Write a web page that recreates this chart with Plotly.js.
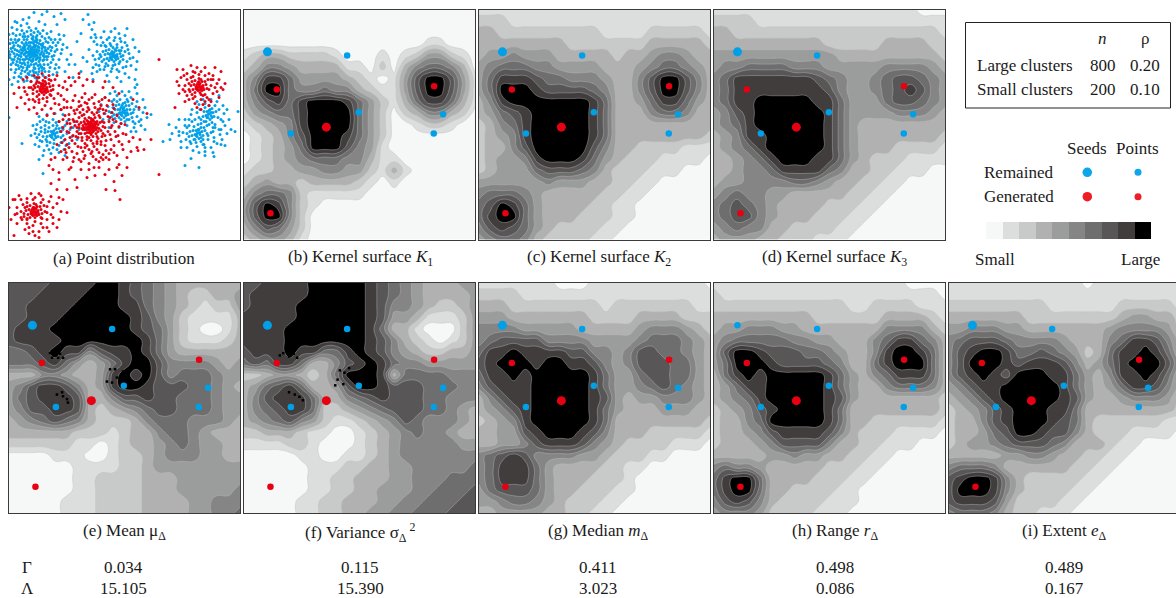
<!DOCTYPE html>
<html><head><meta charset="utf-8"><script src="https://cdn.plot.ly/plotly-3.0.1.min.js"></script>
<style>html,body{margin:0;padding:0;background:#fff;overflow:hidden}</style></head><body><div id="chart" style="width:1176px;height:598px"></div>
<script>
// Grey levels of the shared legend, lightest to darkest
const levelColors=['#f6f8f7','#dcdedd','#c8cac9','#b1b1b1','#9b9c9c','#858585','#6e6e6e','#585657','#413d3d','#000000'];
// Surfaces on a 21 x 21 lattice, one digit per level
const surfaceK1=["000000000000000000000","000000000000000000000","000000000000000000000","000000000000000011000","123322221000101244210","235543333110203566530","358864444321014799741","369965565532114799741","357868999864213688631","245668999964202355320","123458999964200122100","012357999864200000000","012346999754100000000","012345666553110000000","122334455442131000000","234332333321010000000","356652111110000000000","479852100000000000000","479952000000000000000","357642000000000000000","234431000000000000000"];
const surfaceK2=["111111111111111111111","222111111111111111111","332222222221111222221","333333332222222333332","344544433333233455433","456665544443334566543","468887665554335799753","469998777765335799753","358999999986334688643","346789999986333566533","235689999986333333333","234589999986333333332","233579999975332222111","234458999864322211110","234446777653222111000","444444544433221100000","566654333332211000000","679864333322110000000","689964333222110000000","578764322221100000000","456653222211000000000"];
const surfaceK3=["111111111111111111000","222211111111111111111","332222222222222222221","333333333322222333322","444444444443333333332","455666655544444555543","568888888765445677654","568888888875445678754","568899999886444677654","457899999986444455543","456899999986433333333","345889999986433333332","345689999986433322221","334568999886432221111","334556888865332211100","344555566543322110000","456554433333221100000","567654333322211000000","567754333222110000000","456553322221100000000","344433222111000000000"];
const surfaceE=["777788889987654333333","777888899987654322334","778888999988654321224","778889999998754211113","788899999998764210013","788889999999864211123","667898857889864333333","666786434689975555434","333554334898975666544","457887534899877766543","467888733577877666544","457788732345677666544","345676532223566655543","333333222123356654333","222222110123345654433","000011100122345554433","000000111122344444444","000000112222333444444","000000112222333444445","000001112222333344555","000001112222333344556"];
const surfaceF=["778888999998765433344","788888999998765433334","788889999998755432234","888889999998744311124","888899999998633100024","888899999998753210124","788898866898754322334","676886335789865544444","223443236999836666555","346786334799877766655","357888633567877766555","356788622345677766543","345675421123457655543","223332110012345655433","111122100012345555544","000001100112345555555","000000111223344555556","000000112233344555666","000000112233444556667","000001122333445566677","000001122334455666777"];
const surfaceG=["111111100011111111110","222211111111111111111","333222222221222222211","444333333322223333222","555544444333334555432","567777555544445666543","688988887755457766543","789998998875457776643","688989999986446776643","578889999986445676543","357889999987434455543","345789999986433344433","234589999986333333332","334478999875333222221","334457888754322221110","567875555443222110000","568886433332211000000","568886433322210000000","467776433222110000000","445665432221100000000","334444332211000000000"];
const surfaceH=["111111111111111110000","211111111111111111110","222222222222112222111","333333333222222333321","344555443333333555532","456666655443335688653","479987776654335899863","469998777765336899963","368989999986435688863","346889999986433566653","345689999987433333332","234578999986333333332","233569999986332222221","233457888875322211110","233345777753322111000","333334454433221100000","565543333322211000000","689963333222110000000","689963322221100000000","578753222211100000000","455542222111000000000"];
const surfaceI=["111111111111011111111","111111111111111111111","222222222111111222221","333333322222222344332","445554433333334555542","567776555543335688753","578998667654236889863","579998788875346899974","578987999886435889863","457889999986434688753","345789999987433455542","234578999886333333332","233578999876322222211","233467998775322211110","234456777653332110000","333334455433221100000","566653333332211000000","789985322222110000000","799985322221100000000","788874222211000000000","566653221110000000000"];

// Points of panel (a), x,y pairs per cluster
const blueClusterA=[23,43,25,45,21,41,24,40,20,44,27,42,22,47,26,38,19,39,28,46,24,49,18,43,30,41,21,36,25,35,17,47,29,37,23,52,27,50,20,50,32,44,16,40,31,48,22,33,26,32,18,35,33,39,15,45,28,33,14,38,34,46,19,53,25,55,30,52,24,43,22,44,26,44,23,41,25,41,21,43,27,45,24,46,20,42,28,40,22,39,26,47,23,38,19,46,29,43,21,48,25,37,17,42,31,45,27,36,24,51,18,49,30,38,16,44,33,42,22,51,20,37,28,49,26,41,23,46,24,42,22,42,25,43,21,45,10,30,13,33,8,41,6,47,11,50,9,56,14,58,18,60,24,61,30,59,35,55,38,50,40,44,41,37,37,32,33,27,28,26,22,25,16,27,11,37,5,36,3,42,4,53,7,60,12,64,17,67,23,66,29,65,36,62,41,58,44,50,46,42,44,33,40,28,34,21,27,19,20,18,13,21,7,26,2,30,1,48,12,44,36,38,13,54,32,57,38,43,15,30,27,28,8,52,42,53,24,30,16,55,34,34,10,46,37,47,20,57,29,56,12,40,35,50,18,30,31,31,14,50,39,39,21,62,26,59,6,40,47,36,43,47,10,59,33,61,8,13,14,10,20,8,25,3,33,5,38,2,45,7,52,4,56,10,48,15,50,25,54,35,58,38,62,45,66,55,58,50,52,44,50,58,56,62,64,68,68,32,72,24,74,10,79,5,80,15,3,18,0,25,6,12,2,60,0,70,3,75,5,68,9,72,15,72,22,72,28,70,37,68,44,65,48,63,0,108,12,68,36,15,42,22,30,12,18,14,12,16,46,30,55,26,60,55,47,55,15,35,12,47,9,36,7,33,16,50,19,56,25,58,31,55,35,44,37,41,34,37,30,34,24,27,19,27,14,27,10,42,8,45,5,44,4,38,3,50,7,55,12,57,16,62,20,65,27,63,33,58,39,47,42,41,43,38,39,33,36,29,31,24,25,23,18,22,11,25,9,31,6,30,4,33,2,39,1,45,5,50,9,49,13,43,15,53,18,58,22,55,27,54,31,50,35,47,36,41,32,35,28,30,23,29,17,33,14,41,11,53,13,61,19,64,25,63,30,62,35,59,39,55,45,46,48,40,49,33,42,30,38,24,29,22,22,21,15,24,8,20,4,24,1,34,0,42,2,55,6,63,10,67,18,71,26,68,34,66,40,62,46,59,50,50,53,40,51,30,24,33,20,33,27,31,15,39,29,48,34,51,16,37,33,36];
const blueClusterB=[104,46,106,48,102,44,105,43,101,48,108,45,103,50,107,41,99,44,109,49,105,52,100,40,104,38,111,44,98,49,106,46,103,47,104,44,102,49,107,50,110,41,96,45,105,47,101,45,108,47,103,42,106,40,100,51,112,47,97,41,92,36,88,42,86,50,90,56,95,60,102,62,108,60,114,58,118,52,120,44,118,36,112,32,106,28,98,30,92,28,85,32,80,40,84,58,88,62,98,66,108,68,116,64,122,56,124,48,126,38,124,30,116,26,110,24,102,22,95,22,86,25,82,28,92,47,114,50,97,54,110,54,93,52,116,42,101,34,108,35,90,49,113,38,104,56,96,36,83,20,85,13,87,28,130,42,128,52,120,68,112,72,100,72,83,64,78,52,74,48,84,70,126,70,127,60,106,19,118,19,72,62,128,75,94,42,91,45,95,50,99,56,106,55,111,52,114,46,112,41,108,38,102,36,97,37,94,33,100,28,105,31,111,29,116,33,119,40,121,49,117,57,110,62,103,59,96,57,91,60,87,55,88,35,84,46];
const blueClusterE=[114,101,116,104,112,98,115,98,111,103,118,100,113,106,117,96,109,100,119,105,115,108,110,95,114,94,121,100,108,105,116,101,113,103,114,99,112,105,117,106,120,96,106,100,115,103,111,100,118,103,113,96,116,93,110,108,122,104,107,96,103,92,99,97,96,104,100,110,105,113,112,114,118,116,124,112,128,107,130,100,128,92,122,88,116,86,108,86,101,84,96,88,92,95,125,118,132,110,134,103,120,82,113,82,106,82,90,102,94,110,110,118,132,116,127,122,122,122,128,84,134,90,136,98,138,108,142,105,136,120,126,78,100,118,103,107,124,103,119,92,105,105,108,92,104,98,102,103,106,109,112,110,118,110,123,108,125,100,123,94,118,90,111,90,105,90,100,102,127,97,130,112,116,112,110,104,120,110,126,114];
const blueClusterF=[44,124,46,126,42,122,45,121,41,126,48,123,43,128,47,119,39,122,49,127,45,130,40,118,44,116,51,122,38,127,46,124,43,125,44,122,42,127,47,128,50,119,36,123,32,118,30,125,33,132,38,136,44,138,50,136,55,131,58,124,56,116,50,112,44,110,37,112,31,112,27,120,28,128,30,137,35,141,42,144,50,143,55,140,60,134,63,127,64,118,60,110,54,105,46,104,38,105,30,107,24,116,22,126,26,135,34,146,56,146,66,112,70,120,68,130,13,134,30,150,34,164,32,122,52,128,37,130,48,116,41,133,36,116,53,118,36,120,34,127,38,132,45,134,52,133,54,126,54,120,47,113,40,113,34,110,28,115,26,124,31,131,40,140,48,140,57,136,61,120,58,112];
const blueClusterH=[200,104,202,106,198,102,201,100,197,106,204,103,199,108,203,99,195,102,205,107,201,110,196,98,200,96,207,102,194,107,202,103,199,105,200,101,198,108,203,108,190,95,188,103,186,110,192,114,198,116,206,115,212,110,215,104,214,96,208,92,202,90,194,90,188,92,210,86,218,100,220,110,216,116,218,124,222,120,212,120,204,122,183,100,180,110,178,118,195,112,203,113,209,108,210,100,206,96,196,94,191,100,190,108,182,105,176,110];
const blueClusterI=[189,123,191,125,187,121,190,120,186,125,193,122,188,127,192,118,184,121,194,126,190,129,185,117,189,115,196,121,183,126,191,123,188,124,189,120,187,126,192,128,195,118,181,122,176,116,174,123,177,130,182,134,188,137,194,135,199,130,202,123,200,115,205,128,208,134,202,138,196,142,190,143,184,141,178,138,172,132,170,122,167,118,163,124,160,115,170,110,213,130,216,136,192,110,183,112,197,112,211,125,206,118,172,138,182,149,176,156,190,158,196,146,205,147,204,143,212,135,226,122,229,102,161,130,154,132,195,135,186,130,180,127,199,126,194,130,185,130,192,132,198,124,204,118,180,116,178,124,181,132,187,133,196,138,205,132,210,120,214,112,170,126];
const redClusterC=[34,79,36,81,32,77,35,76,31,81,38,78,33,83,37,74,29,77,39,82,35,85,30,73,34,71,41,77,28,82,36,79,33,80,34,77,32,82,37,83,40,74,26,78,35,82,31,79,38,80,33,75,36,72,30,85,42,81,27,74,34,74,36,76,32,74,22,72,20,78,18,85,24,90,30,93,38,92,45,89,49,84,50,76,46,70,40,66,33,64,25,66,18,68,15,78,12,88,16,94,25,98,33,100,42,99,50,95,55,90,58,80,56,72,62,76,66,72,70,68,48,66,52,100,58,98,45,104,38,106,28,104,20,100,8,98,5,84,10,78,14,70,28,68,42,86,24,84,44,80,22,78,28,72,25,76,24,80,28,87,34,89,41,85,44,76,42,71,36,68,30,68,26,92,36,96,46,94,52,86,54,78,20,90,16,82,30,90,38,88,40,70];
const redClusterD=[82,117,84,119,80,115,83,114,79,119,86,116,81,121,85,112,77,115,87,120,83,123,78,111,82,109,89,115,76,120,84,117,81,118,82,115,80,120,85,121,88,112,74,116,83,120,79,117,86,118,81,113,84,110,78,123,90,119,75,112,82,125,87,124,73,119,91,113,80,108,86,108,76,124,72,113,92,121,84,127,78,127,88,127,70,118,94,117,82,112,85,115,79,114,83,118,81,116,84,122,77,118,86,113,80,123,75,118,88,118,82,120,83,116,80,117,85,118,78,120,87,114,83,111,81,123,79,112,76,114,89,122,60,110,62,118,64,126,66,134,72,138,80,140,88,140,96,136,102,130,106,122,107,112,103,103,98,96,90,92,80,90,70,92,62,98,56,106,66,104,74,100,86,98,95,104,100,112,99,122,92,132,84,134,76,134,69,128,66,116,70,108,78,102,58,122,56,130,60,138,68,144,76,146,84,147,94,145,102,140,110,132,114,124,112,114,104,95,96,88,86,85,76,84,66,86,58,92,52,100,50,112,54,118,73,106,91,108,96,126,73,128,64,110,88,132,78,130,102,118,94,100,68,122,83,103,93,127,72,96,99,107,61,128,107,127,89,100,76,93,48,135,52,142,58,148,64,152,72,152,80,154,90,152,100,150,108,146,114,140,120,132,124,128,118,148,128,138,135,140,122,142,110,155,100,160,90,158,80,160,72,160,62,158,54,150,46,148,42,150,40,156,44,160,50,163,78,168,86,166,96,165,113,166,105,172,66,170,68,178,97,180,106,181,111,190,150,165,129,141,131,130,130,98,124,90,110,84,104,78,94,78,96,72,74,76,78,70,84,72,70,64,60,68,150,50,142,130,138,104,42,174,50,170,50,188,58,180,48,180,32,186,56,140,60,160,108,158,118,158,94,150,85,158,65,112,68,118,70,124,73,131,78,136,85,137,92,135,97,131,101,125,103,116,101,108,97,101,92,96,85,94,78,94,70,97,65,101,60,105,58,114,60,123,63,131,69,137,74,142,82,144,90,143,97,141,105,136,109,126,110,117,108,106,105,99,100,91,93,90,83,88,73,88,64,91,55,98,54,110,52,122,53,133,57,143,65,148,75,149,87,150,97,148,105,143,113,135,117,125,116,115,68,100,75,105,80,100,88,103,93,112,96,118,94,124,89,129,80,128,72,124,68,112,71,103,85,105,90,106,76,109,70,115,95,113,88,134,82,131,74,120,67,127,61,114,104,110,79,98,91,99,76,138,83,142,92,148,100,144,58,135,63,142,70,150];
const redClusterG=[190,77,192,79,188,75,191,74,187,79,194,76,189,81,193,72,185,75,195,80,191,83,186,71,190,69,197,75,184,80,192,77,189,78,190,75,188,80,193,81,196,72,182,76,191,80,187,77,194,78,189,73,192,70,186,83,198,79,183,72,190,72,178,70,176,76,174,80,178,86,184,89,192,90,198,88,204,84,206,78,204,70,200,64,192,62,184,62,178,64,172,68,168,72,170,84,176,92,186,94,194,95,202,92,210,88,212,78,210,70,212,62,206,58,204,66,196,58,188,58,182,56,174,60,168,60,192,100,188,98,200,96,166,98,175,66,192,85,183,85,199,70,180,80,184,67,202,76,196,85,208,74,170,76,216,74,214,80,182,68,180,74,181,82,186,87,194,86,200,80,202,70,196,66,190,65,186,63,176,82,200,90,208,82,180,90,196,92];
const redClusterJ=[25,202,27,204,23,200,26,199,22,204,29,201,24,206,28,197,20,200,30,205,26,208,21,196,25,194,32,200,19,205,27,202,24,203,25,200,23,205,28,206,31,197,17,201,26,205,22,202,29,203,24,198,27,195,21,208,33,204,18,197,25,198,27,199,14,195,12,202,13,210,18,214,24,216,32,214,38,210,42,205,44,198,40,192,34,190,26,188,18,189,12,190,8,198,6,205,8,214,16,220,24,222,30,222,38,218,44,214,50,210,52,202,48,194,42,187,30,184,22,184,4,190,0,198,2,210,6,190,40,222,26,226,20,224,36,202,32,208,15,207,35,196,18,209,58,203,10,186,5,226,48,218,54,190,30,228,16,198,15,204,18,210,26,212,33,209,38,203,38,197,32,193,24,190,18,193,12,208,20,218,34,218,44,208,8,204];

// Black specks in the mean and variance panels, x,y pairs on the lattice
const specksMean=[3.55,6.1,3.98,6.25,3.72,6.5,4.42,6.15,4.25,6.5,4.68,6.5,4.15,9.7,4.6,9.5,5.02,10.1,5.1,10.4,4.68,9.85,8.75,7.5,9.18,7.5,8.48,8.57,8.92,8.66,9.35,8.22,9.87,7.7,10.3,8.57];
const specksVariance=[3.4,6.1,3.9,6.4,4.3,6.15,4.6,6.5,3.1,6.3,3.9,9.5,4.4,9.7,4.8,9.9,5.1,10.2,8.3,7.6,8.7,7.8,9.1,7.4,8.1,8.4,8.6,8.8,7.9,8.9,9.4,8.1];

// Seed locations on the lattice of the surfaces
const remainedX=[2.03,8.93,9.94,4.06,17.24,16.43];
const remainedY=[3.68,4.00,8.93,10.78,9.10,10.78];
const generatedX=[2.84,7.13,16.46,2.29];
const generatedY=[6.96,10.23,6.67,17.71];

const captions=["(a) Point distribution","(b) Kernel surface <i>K</i><sub>1</sub>","(c) Kernel surface <i>K</i><sub>2</sub>","(d) Kernel surface <i>K</i><sub>3</sub>","(e) Mean μ<sub>Δ</sub>","(f) Variance σ<sub>Δ</sub><sup> 2</sup>","(g) Median <i>m</i><sub>Δ</sub>","(h) Range <i>r</i><sub>Δ</sub>","(i) Extent <i>e</i><sub>Δ</sub>"];
const gammaValues=["0.034","0.115","0.411","0.498","0.489"];
const lambdaValues=["15.105","15.390","3.023","0.086","0.167"];

const W=1176,H=598,BLUE='#00a0e9',RED='#e60012';
const scale=levelColors.map((c,i)=>[i/9,c]);
const panels=[
 {l:9,t:9.5,s:null},{l:244,t:9.5,s:surfaceK1},{l:479,t:9.5,s:surfaceK2},{l:714,t:9.5,s:surfaceK3},
 {l:9,t:283,s:surfaceE,sp:specksMean},{l:244,t:283,s:surfaceF,sp:specksVariance},{l:479,t:283,s:surfaceG},{l:714,t:283,s:surfaceH},{l:949,t:283,s:surfaceI}];
const lattice=[...Array(21).keys()];
const traces=[],layout={width:W,height:H,margin:{l:0,r:0,t:0,b:0},paper_bgcolor:'#fff',plot_bgcolor:'rgba(0,0,0,0)',showlegend:false,annotations:[],shapes:[],hovermode:false};
const hidden={visible:false,fixedrange:true};
const noLine={width:0};
function axisKey(prefix,n){return prefix+(n===1?'':n);}
function ax(n,l,r,t,b,xr,yr,closed){
  const base={showgrid:false,zeroline:false,ticks:'',showticklabels:false,fixedrange:true,showline:true,linecolor:'#3a3a3a',linewidth:1};
  layout[axisKey('xaxis',n)]={...base,domain:[l/W,Math.min(r/W,1)],range:xr,anchor:axisKey('y',n),mirror:true};
  layout[axisKey('yaxis',n)]={...base,domain:[1-b/H,1-t/H],range:yr,anchor:axisKey('x',n),mirror:closed};
}
function pairs(list,i){return list.filter((v,k)=>k%2===i);}
panels.forEach((p,i)=>{
  const n=i+1,xa=axisKey('x',n),ya=axisKey('y',n);
  if(!p.s){
    ax(n,p.l,p.l+231,p.t,p.t+230,[0,231],[230,0],true);
    const blue=[].concat(blueClusterA,blueClusterB,blueClusterE,blueClusterF,blueClusterH,blueClusterI);
    const red=[].concat(redClusterC,redClusterD,redClusterG,redClusterJ);
    traces.push({type:'scatter',mode:'markers',xaxis:xa,yaxis:ya,x:pairs(blue,0),y:pairs(blue,1),marker:{color:BLUE,size:3,opacity:1,line:noLine}});
    traces.push({type:'scatter',mode:'markers',xaxis:xa,yaxis:ya,x:pairs(red,0),y:pairs(red,1),marker:{color:RED,size:3,opacity:1,line:noLine}});
    return;
  }
  const right=Math.min(p.l+231,W);
  ax(n,p.l,right,p.t,p.t+230,[0,20*(right-p.l)/231],[20,0],p.l+231<=W);
  traces.push({type:'contour',xaxis:xa,yaxis:ya,x:lattice,y:lattice,z:p.s.map(r=>r.split('').map(Number)),
    autocontour:false,contours:{start:0.5,end:8.5,size:1,coloring:'fill',showlines:true},
    line:{color:'rgba(190,190,190,0.7)',width:0.6,smoothing:1.3},colorscale:scale,zauto:false,zmin:0,zmax:9,showscale:false});
  if(p.sp) traces.push({type:'scatter',mode:'markers',xaxis:xa,yaxis:ya,x:pairs(p.sp,0),y:pairs(p.sp,1),marker:{color:'#000',symbol:'square',size:2.5,opacity:1,line:noLine}});
  const rs=remainedX.map(()=>6.5); if(i!==7) rs[0]=9;
  traces.push({type:'scatter',mode:'markers',xaxis:xa,yaxis:ya,x:remainedX,y:remainedY,marker:{color:BLUE,size:rs,opacity:1,line:noLine}});
  traces.push({type:'scatter',mode:'markers',xaxis:xa,yaxis:ya,x:generatedX,y:generatedY,marker:{color:RED,size:[6.5,9,6.5,6.5],opacity:1,line:noLine}});
});
// Whole page overlay scale for texts and the legend
layout.xaxis10={...hidden,domain:[0,1],range:[0,W],anchor:'y10'};
layout.yaxis10={...hidden,domain:[0,1],range:[H,0],anchor:'x10'};
traces.push({type:'scatter',mode:'markers',xaxis:'x10',yaxis:'y10',x:[1087.3,1138],y:[172.3,172.3],marker:{color:'#0ea5ec',size:[9.5,7],opacity:1,line:noLine}});
traces.push({type:'scatter',mode:'markers',xaxis:'x10',yaxis:'y10',x:[1087.3,1138],y:[196.7,196.7],marker:{color:'#ee1c25',size:[9.5,7],opacity:1,line:noLine}});
// Grey key
layout.xaxis11={...hidden,domain:[986/W,1151/W],range:[-0.5,9.5],anchor:'y11'};
layout.yaxis11={...hidden,domain:[1-239/H,1-222/H],range:[-0.5,0.5],anchor:'x11'};
traces.push({type:'heatmap',xaxis:'x11',yaxis:'y11',z:[levelColors.map((c,i)=>i)],colorscale:scale,zmin:0,zmax:9,showscale:false});

function txt(text,x,y,anchor,size){
  layout.annotations.push({text,x,y,xref:'x10',yref:'y10',xanchor:anchor||'center',yanchor:'middle',showarrow:false,align:'left',
    font:{family:'"Liberation Serif",serif',size:size||17,color:'#1a1a1a'}});
}
const capX=[124,360,598.7,834.7,124,360,598.7,835,1064];
captions.forEach((c,i)=>txt(c,capX[i],i<4?258:532,'center'));
txt('Γ',27,567);txt('Λ',27,588.5);
[123,360,598,835,1064].forEach((x,i)=>{txt(gammaValues[i],x,567);txt(lambdaValues[i],x,588.5);});
txt('<i>n</i>',1102,38);txt('ρ',1145,38);
txt('Large clusters',975,65,'left');txt('800',1102.5,65);txt('0.20',1145,65);
txt('Small clusters',975,89,'left');txt('200',1102.5,89);txt('0.10',1145,89);
txt('Seeds',1087,148);txt('Points',1137.5,148);
txt('Remained',982,172,'left');txt('Generated',982,196,'left');
txt('Small',973,259.5,'left');txt('Large',1162,259.5,'right');
layout.shapes.push({type:'rect',xref:'x10',yref:'y10',x0:965.5,x1:1170.5,y0:22.5,y1:108,line:{color:'#222',width:1},fillcolor:'rgba(0,0,0,0)'});
Plotly.newPlot('chart',traces,layout,{staticPlot:true,displayModeBar:false});
</script></body></html>
